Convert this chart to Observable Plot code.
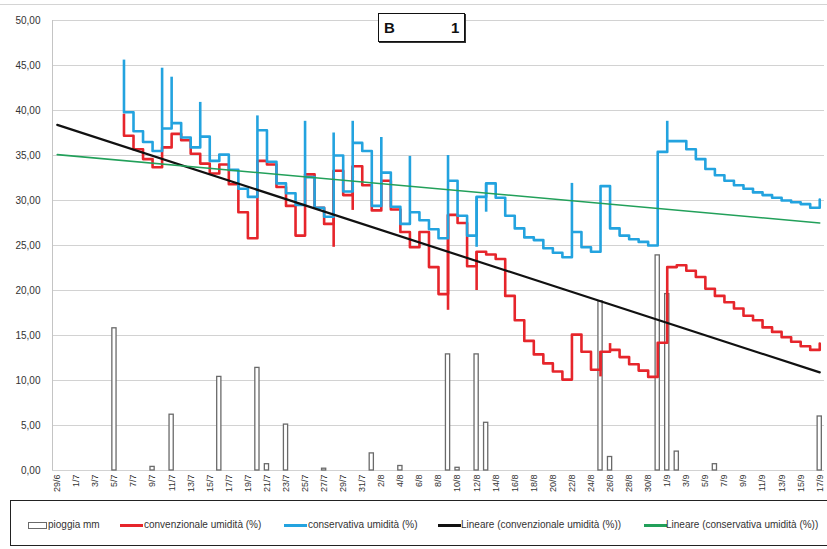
<!DOCTYPE html>
<html>
<head>
<meta charset="utf-8">
<script src="https://cdn.jsdelivr.net/npm/d3@7"></script>
<script src="https://cdn.jsdelivr.net/npm/@observablehq/plot@0.6"></script>
<style>
  body { margin: 0; background: #fff; }
  #wrap { position: relative; width: 827px; height: 549px; overflow: hidden; background: #fff; font-family: "Liberation Sans", Arial, sans-serif; }
  #chart { position: absolute; left: 0; top: 0; }
  #topline { position: absolute; left: 0; top: 4px; width: 827px; height: 0; border-top: 1px solid #d4d4d4; }
  #title { position: absolute; left: 378px; top: 13px; width: 85px; height: 27px; border: 1.6px solid #111; box-shadow: 1px 1px 0 #333; background: #fff; font-weight: bold; font-size: 15px; color: #111; }
  #title .a { position: absolute; left: 5px; top: 5px; }
  #title .b { position: absolute; left: 72px; top: 5px; }
  #legend { position: absolute; left: 10px; top: 500px; width: 830px; height: 44px; border: 1.6px solid #222; background: #fff; font-size: 10px; color: #333; }
  #legend .sw { position: absolute; }
  #legend .tx { position: absolute; top: 18px; white-space: nowrap; }
</style>
</head>
<body>
<div id="wrap">
  <div id="topline"></div>
  <div id="chart"></div>
  <div id="title"><span class="a">B</span><span class="b">1</span></div>
  <div id="legend"></div>
</div>
<script>
// ---- categories (one per day, 29/6 .. 17/9) ----
const dates = ["29/6","30/6","1/7","2/7","3/7","4/7","5/7","6/7","7/7","8/7","9/7","10/7","11/7","12/7","13/7","14/7","15/7","16/7","17/7","18/7","19/7","20/7","21/7","22/7","23/7","24/7","25/7","26/7","27/7","28/7","29/7","30/7","31/7","1/8","2/8","3/8","4/8","5/8","6/8","7/8","8/8","9/8","10/8","11/8","12/8","13/8","14/8","15/8","16/8","17/8","18/8","19/8","20/8","21/8","22/8","23/8","24/8","25/8","26/8","27/8","28/8","29/8","30/8","31/8","1/9","2/9","3/9","4/9","5/9","6/9","7/9","8/9","9/9","10/9","11/9","12/9","13/9","14/9","15/9","16/9","17/9"];

// ---- pioggia mm ----
const rain = [0,0,0,0,0,0,15.8,0,0,0,0.4,0,6.2,0,0,0,0,10.4,0,0,0,11.4,0.7,0,5.1,0,0,0,0.2,0,0,0,0,1.9,0,0,0.5,0,0,0,0,12.9,0.3,0,12.9,5.3,0,0,0,0,0,0,0,0,0,0,0,18.8,1.5,0,0,0,0,23.9,19.6,2.1,0,0,0,0.7,0,0,0,0,0,0,0,0,0,0,6.0];

// ---- convenzionale umidità (%) ----
const conv = [null,null,null,null,null,null,null,
  37.2,35.7,34.6,33.7,35.9,37.4,36.7,35.2,34.1,33.0,34.0,31.8,28.7,25.8,
  34.4,34.0,31.5,29.4,26.1,32.9,29.2,27.4,33.3,30.6,33.8,31.7,28.9,32.2,
  29.0,26.5,24.8,26.5,22.6,19.6,28.4,27.5,22.7,24.3,24.0,23.5,19.4,16.7,
  14.4,12.9,11.9,11.0,10.1,15.1,13.2,11.2,13.2,13.4,12.6,11.8,11.1,10.4,
  14.2,22.6,22.8,22.2,21.5,20.2,19.4,18.7,18.0,17.2,16.7,15.9,15.4,14.8,
  14.3,13.8,13.4,14.1];

// ---- conservativa umidità (%) ----
const cons = [null,null,null,null,null,null,null,
  39.8,37.7,36.5,35.5,38.0,38.6,37.0,35.9,37.1,34.4,35.1,33.4,31.3,30.4,
  37.8,34.3,31.9,30.8,29.5,32.6,29.2,28.2,35.0,31.0,36.4,35.5,29.4,33.1,
  29.3,27.4,28.7,27.8,26.8,25.8,32.2,28.3,26.1,30.4,31.9,30.3,28.3,26.9,
  25.9,25.6,24.7,24.2,23.7,26.5,24.8,24.3,31.6,26.9,26.1,25.7,25.4,25.0,
  35.4,36.6,36.6,35.7,34.6,33.5,32.8,32.2,31.7,31.3,30.9,30.6,30.3,30.0,
  29.8,29.6,29.2,30.1];

// ---- momentary peaks within a day (spikes) ----
const consSpikeDays  = [7, 11, 12, 15, 21, 26, 29, 31, 34, 37, 41, 44, 45, 54, 64];
const consSpikeVals  = [45.6, 44.7, 43.7, 40.9, 39.4, 38.8, 37.5, 38.8, 37.0, 34.9, 35.0, 24.8, 28.7, 31.9, 38.8];
const convSpikeDays  = [7, 29, 31, 41, 44, 57, 58];
const convSpikeVals  = [39.6, 24.8, 28.9, 17.8, 20.0, 10.4, 14.1];

// ---- linear trend lines (Lineare) ----
const trendDays = [0, 80];
const trendConv = [38.4, 10.9];
const trendCons = [35.1, 27.5];

// ---- axis ticks ----
const yTicks = [0, 5, 10, 15, 20, 25, 30, 35, 40, 45, 50];
const xTickLabels = dates.filter((d, i) => i % 2 === 0);

const RED = "#e6252b", BLUE = "#23a3df", GREEN = "#22a05a", BLACK = "#111";

const rows = dates.map((d, i) => ({i, date: d, rain: rain[i], conv: conv[i], cons: cons[i]}));
const xDomain = [-0.5, dates.length - 0.5];
const spikes = (days, vals, series) => days.map((d, k) => ({i: d, level: series[d], peak: vals[k]}));
const trend = (vals) => trendDays.map((d, k) => ({i: d, v: vals[k]}));

const chart = Plot.plot({
  width: 827,
  height: 500,
  marginLeft: 52,
  marginRight: 3,
  marginTop: 20,
  marginBottom: 30,
  style: {fontFamily: "Liberation Sans, Arial, sans-serif", color: "#333", background: "transparent"},
  x: {type: "linear", domain: xDomain, ticks: xTickLabels.map(l => dates.indexOf(l)), tickFormat: i => dates[i], tickRotate: -90, tickSize: 0, tickPadding: 4, label: null},
  y: {domain: [0, 50], ticks: yTicks, tickFormat: v => v.toFixed(2).replace(".", ","), tickSize: 0, tickPadding: 12, label: null},
  marks: [
    Plot.ruleY(yTicks, {stroke: "#d2d2d2", strokeWidth: 1}),
    Plot.ruleX([xDomain[0]], {stroke: "#c4c4c4", strokeWidth: 1}),
    Plot.rectY(rows.filter(d => d.rain > 0), {x1: d => d.i - 0.22, x2: d => d.i + 0.22, y: "rain", fill: "#fff", stroke: "#6a6a6a", strokeWidth: 1.3}),
    Plot.line(rows.filter(d => d.conv != null), {x: "i", y: "conv", curve: "step-after", stroke: RED, strokeWidth: 2.6}),
    Plot.ruleX(spikes(convSpikeDays, convSpikeVals, conv), {x: "i", y1: "level", y2: "peak", stroke: RED, strokeWidth: 2.6}),
    Plot.line(rows.filter(d => d.cons != null), {x: "i", y: "cons", curve: "step-after", stroke: BLUE, strokeWidth: 2.6}),
    Plot.ruleX(spikes(consSpikeDays, consSpikeVals, cons), {x: "i", y1: "level", y2: "peak", stroke: BLUE, strokeWidth: 2.6}),
    Plot.line(trend(trendConv), {x: "i", y: "v", stroke: BLACK, strokeWidth: 2.2}),
    Plot.line(trend(trendCons), {x: "i", y: "v", stroke: GREEN, strokeWidth: 1.6})
  ]
});
chart.querySelectorAll('g[aria-label="y-axis tick label"]').forEach(n => n.setAttribute("font-size", "10"));
chart.querySelectorAll('g[aria-label="x-axis tick label"]').forEach(n => n.setAttribute("font-size", "9"));
document.getElementById("chart").appendChild(chart);

// ---- legend ----
const legendItems = [
  {label: "pioggia mm", kind: "bar", color: "#6a6a6a", sx: 17, tx: 37},
  {label: "convenzionale umidità (%)", kind: "line", color: RED, sx: 109, tx: 133},
  {label: "conservativa umidità (%)", kind: "line", color: BLUE, sx: 273, tx: 297},
  {label: "Lineare (convenzionale umidità (%))", kind: "line", color: BLACK, sx: 427, tx: 450},
  {label: "Lineare (conservativa umidità (%))", kind: "line", color: GREEN, sx: 633, tx: 655}
];
const lg = document.getElementById("legend");
legendItems.forEach(it => {
  const sw = document.createElement("div");
  sw.className = "sw";
  if (it.kind === "bar") {
    Object.assign(sw.style, {left: it.sx + "px", top: "21px", width: "17px", height: "5px", border: "1.2px solid " + it.color, background: "#fff"});
  } else {
    Object.assign(sw.style, {left: it.sx + "px", top: "23px", width: "23px", height: "2.6px", background: it.color});
  }
  lg.appendChild(sw);
  const tx = document.createElement("div");
  tx.className = "tx";
  tx.style.left = it.tx + "px";
  tx.textContent = it.label;
  lg.appendChild(tx);
});
</script>
</body>
</html>
